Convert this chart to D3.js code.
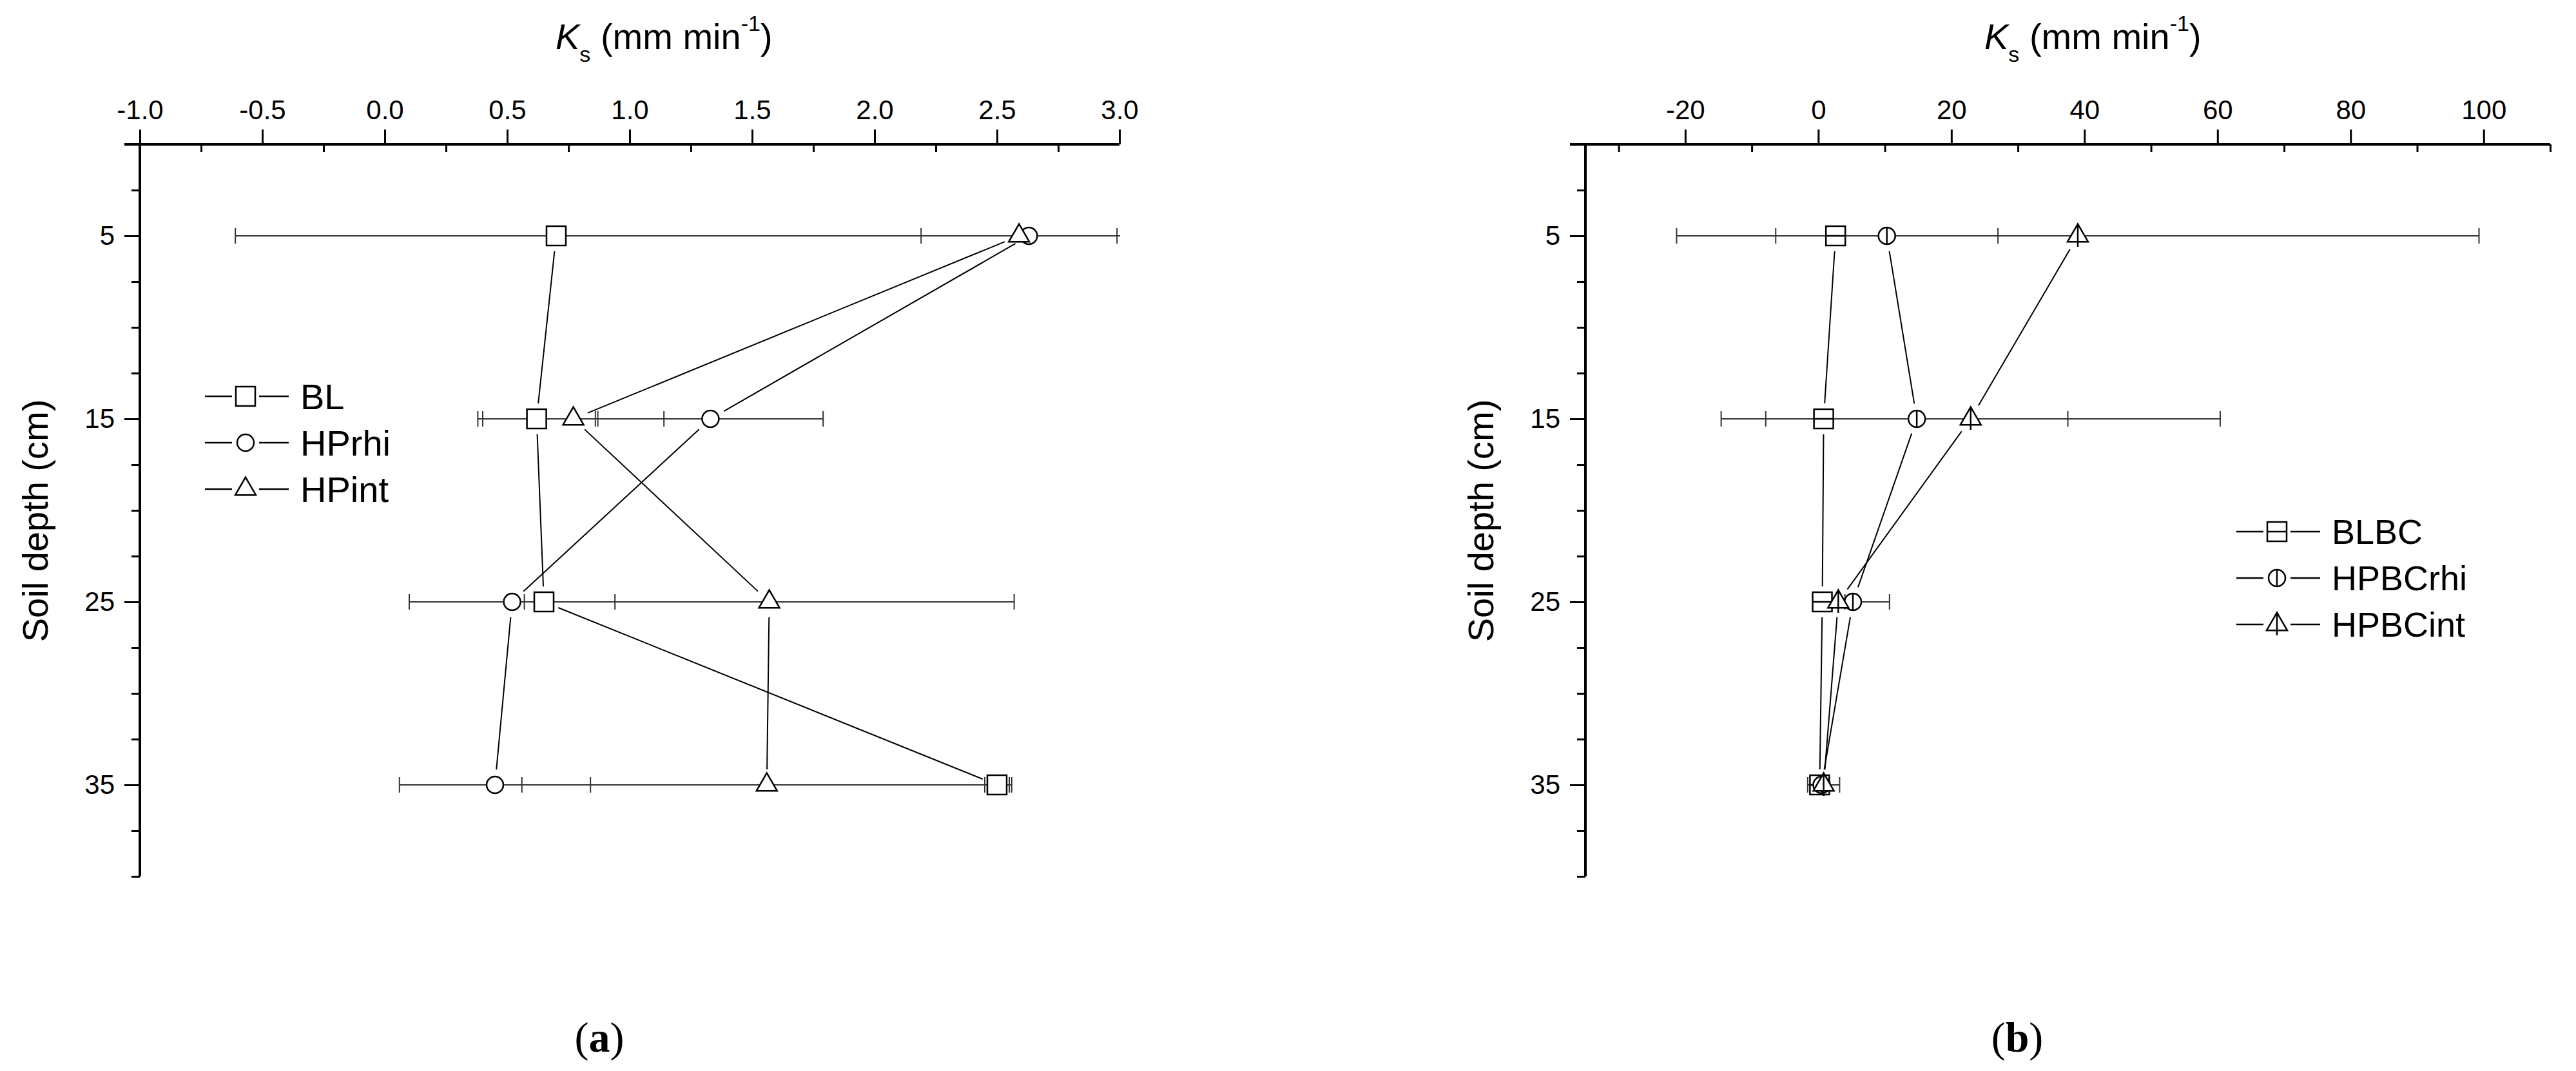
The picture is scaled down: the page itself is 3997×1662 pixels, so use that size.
<!DOCTYPE html>
<html>
<head>
<meta charset="utf-8">
<script src="https://cdn.jsdelivr.net/npm/d3@7"></script>
<style>
  body { margin: 0; background: #fff; }
  text { font-family: "Liberation Sans", Arial, sans-serif; fill: #000; }
</style>
</head>
<body>
<svg id="fig" width="3997" height="1662"></svg>
<script>
// soil depths (cm), shared by both panels
var depths = [5, 15, 25, 35];

// panel (a): Ks means and error (mm/min)
var blMean    = [0.70, 0.62, 0.65, 2.50];
var blErr     = [0.03, 0.24, 0.02, 0.05];
var hprhiMean = [2.63, 1.33, 0.52, 0.45];
var hprhiErr  = [3.24, 0.46, 0.42, 0.39];
var hpintMean = [2.59, 0.77, 1.57, 1.56];
var hpintErr  = [0.40, 0.37, 1.00, 1.00];

// panel (b)
var blbcMean    = [2.6, 0.8, 0.6, 0.2];
var blbcErr     = [0.5, 0.5, 0.5, 0.3];
var hpbcrhiMean = [10.3, 14.8, 5.2, 0.5];
var hpbcrhiErr  = [16.7, 22.7, 5.5, 0.5];
var hpbcintMean = [39.0, 22.9, 3.0, 0.8];
var hpbcintErr  = [60.3, 37.5, 1.0, 2.4];

// tick labels
var xTicksA = [-1.0, -0.5, 0.0, 0.5, 1.0, 1.5, 2.0, 2.5, 3.0];
var xMinorA = [-0.75, -0.25, 0.25, 0.75, 1.25, 1.75, 2.25, 2.75];
var xTicksB = [-20, 0, 20, 40, 60, 80, 100];
var xMinorB = [-30, -10, 10, 30, 50, 70, 90, 110];
var yTicks  = [5, 15, 25, 35];
var yMinor  = [2.5, 7.5, 10, 12.5, 17.5, 20, 22.5, 27.5, 30, 32.5, 37.5, 40];


var svg = d3.select("#fig");
svg.append("rect").attr("width", 3997).attr("height", 1662).attr("fill", "#fff");


function drawMarker(sel, shape, crossed)
{
  var sizes = { square: 900, circle: 530, triangle: 443 };
  var types = { square: d3.symbolSquare, circle: d3.symbolCircle, triangle: d3.symbolTriangle };

  sel.append("path")
     .attr("d", d3.symbol().type(types[shape]).size(sizes[shape])())
     .attr("fill", "#fff")
     .attr("stroke", "#000")
     .attr("stroke-width", 2.5);

  if (!crossed) return;

  var inner = { square: "M-15,0H15", circle: "M0,-13V13", triangle: "M0,-18.5V17" };
  sel.append("path")
     .attr("d", inner[shape])
     .attr("stroke", "#000")
     .attr("stroke-width", 2.5);
}


function drawPanel(id, cfg)
{
  var g = svg.append("g").attr("id", id);

  var x = d3.scaleLinear().domain(cfg.xDomain).range(cfg.xRange);
  var y = d3.scaleLinear().domain([0, 40]).range([224, 1360]);
  var top = y(0), left = cfg.xRange[0];

  /* axes */
  var xMajor = g.append("g")
     .attr("transform", "translate(0," + top + ")")
     .call(d3.axisTop(x).tickValues(cfg.xTicks).tickSize(23).tickPadding(16).tickFormat(cfg.fmt));
  var xMin = g.append("g")
     .attr("transform", "translate(0," + top + ")")
     .call(d3.axisBottom(x).tickValues(cfg.xMinor).tickSize(12).tickFormat(""));
  var yMajor = g.append("g")
     .attr("transform", "translate(" + left + ",0)")
     .call(d3.axisLeft(y).tickValues(yTicks).tickSize(24).tickPadding(15));
  var yMin = g.append("g")
     .attr("transform", "translate(" + left + ",0)")
     .call(d3.axisLeft(y).tickValues(yMinor).tickSize(13).tickFormat(""));

  [xMajor, xMin, yMajor, yMin].forEach(function(a) {
    a.select(".domain").remove();
    a.selectAll(".tick line").attr("stroke", "#000").attr("stroke-width", 3);
    a.selectAll(".tick text")
     .attr("font-family", "Liberation Sans, Arial, sans-serif")
     .attr("font-size", 42)
     .attr("fill", "#000");
  });

  g.append("line")
     .attr("x1", left - 24).attr("x2", cfg.xRange[1])
     .attr("y1", top).attr("y2", top)
     .attr("stroke", "#000").attr("stroke-width", 4);
  g.append("line")
     .attr("x1", left).attr("x2", left)
     .attr("y1", top - 2).attr("y2", y(40))
     .attr("stroke", "#000").attr("stroke-width", 4);

  /* axis titles */
  var t = g.append("text")
     .attr("x", cfg.titleX).attr("y", 76)
     .attr("font-size", 56);
  t.append("tspan").attr("font-style", "italic").text("K");
  t.append("tspan").attr("dy", 20).attr("font-size", 34).text("s");
  t.append("tspan").attr("dy", -20).text(" (mm min");
  t.append("tspan").attr("dy", -28).attr("font-size", 34).text("-1");
  t.append("tspan").attr("dy", 28).text(")");

  g.append("text")
     .attr("transform", "translate(" + (left - 143) + ",808) rotate(-90)")
     .attr("text-anchor", "middle")
     .attr("font-size", 56)
     .text("Soil depth (cm)");

  /* caption */
  var c = g.append("text")
     .attr("x", cfg.capX).attr("y", 1632)
     .attr("text-anchor", "middle")
     .attr("font-size", 66)
     .style("font-family", "Liberation Serif, Times New Roman, serif");
  c.append("tspan").text("(");
  c.append("tspan").attr("font-weight", "bold").text(cfg.cap);
  c.append("tspan").text(")");

  /* data */
  g.append("clipPath").attr("id", id + "-clip")
     .append("rect")
     .attr("x", cfg.xRange[0]).attr("y", 0)
     .attr("width", cfg.xRange[1] - cfg.xRange[0] + 1).attr("height", 1662);

  var bars = g.append("g").attr("clip-path", "url(#" + id + "-clip)");
  cfg.series.forEach(function(s) {
    depths.forEach(function(d, i) {
      var lo = x(s.mean[i] - s.err[i]), hi = x(s.mean[i] + s.err[i]), yy = y(d);
      var eb = bars.append("g").attr("stroke", "#333").attr("stroke-width", 2);
      eb.append("line").attr("x1", lo).attr("x2", hi).attr("y1", yy).attr("y2", yy);
      eb.append("line").attr("x1", lo).attr("x2", lo).attr("y1", yy - 12).attr("y2", yy + 12);
      eb.append("line").attr("x1", hi).attr("x2", hi).attr("y1", yy - 12).attr("y2", yy + 12);
    });
  });

  var gap = 24;
  cfg.series.forEach(function(s) {
    var pts = depths.map(function(d, i) { return [x(s.mean[i]), y(d)]; });
    for (var i = 0; i < pts.length - 1; i++)
    {
      var p = pts[i], q = pts[i + 1];
      var dx = q[0] - p[0], dy = q[1] - p[1], len = Math.sqrt(dx * dx + dy * dy);
      var ux = dx / len, uy = dy / len;
      g.append("line")
         .attr("x1", p[0] + ux * gap).attr("y1", p[1] + uy * gap)
         .attr("x2", q[0] - ux * gap).attr("y2", q[1] - uy * gap)
         .attr("stroke", "#000").attr("stroke-width", 2);
    }
  });

  cfg.series.forEach(function(s) {
    depths.forEach(function(d, i) {
      var m = g.append("g").attr("transform", "translate(" + x(s.mean[i]) + "," + y(d) + ")");
      drawMarker(m, s.shape, cfg.crossed);
    });
  });

  /* legend */
  cfg.series.forEach(function(s, i) {
    var ry = cfg.legY + i * 72, x0 = cfg.legX, mx = x0 + 63, r = 16;
    var lg = g.append("g");
    lg.append("line").attr("x1", x0).attr("x2", mx - r - 5).attr("y1", ry).attr("y2", ry)
      .attr("stroke", "#000").attr("stroke-width", 2.5);
    lg.append("line").attr("x1", mx + r + 5).attr("x2", x0 + 130).attr("y1", ry).attr("y2", ry)
      .attr("stroke", "#000").attr("stroke-width", 2.5);
    drawMarker(lg.append("g").attr("transform", "translate(" + mx + "," + ry + ")"), s.shape, cfg.crossed);
    lg.append("text")
      .attr("x", x0 + 148).attr("y", ry).attr("dy", "0.36em")
      .attr("font-size", cfg.legFont)
      .text(s.name);
  });
}


drawPanel("pa", {
  xDomain: [-1, 3], xRange: [217, 1737],
  xTicks: xTicksA, xMinor: xMinorA,
  fmt: function(d) { return d.toFixed(1); },
  titleX: 862, capX: 930, cap: "a", crossed: false,
  legX: 318, legY: 615, legFont: 56,
  series: [
    { name: "BL",    mean: blMean,    err: blErr,    shape: "square" },
    { name: "HPrhi", mean: hprhiMean, err: hprhiErr, shape: "circle" },
    { name: "HPint", mean: hpintMean, err: hpintErr, shape: "triangle" }
  ]
});

drawPanel("pb", {
  xDomain: [-35, 110], xRange: [2460, 3957],
  xTicks: xTicksB, xMinor: xMinorB,
  fmt: function(d) { return String(d); },
  titleX: 3079, capX: 3130, cap: "b", crossed: true,
  legX: 3470, legY: 825, legFont: 54,
  series: [
    { name: "BLBC",    mean: blbcMean,    err: blbcErr,    shape: "square" },
    { name: "HPBCrhi", mean: hpbcrhiMean, err: hpbcrhiErr, shape: "circle" },
    { name: "HPBCint", mean: hpbcintMean, err: hpbcintErr, shape: "triangle" }
  ]
});
</script>
</body>
</html>
